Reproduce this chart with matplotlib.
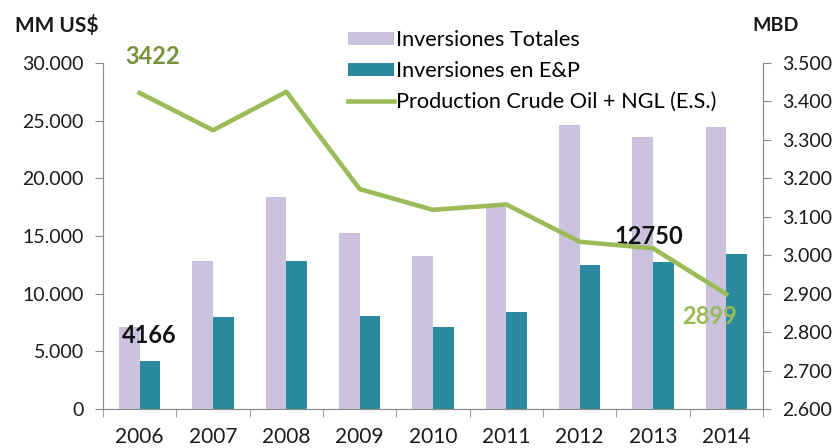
import numpy as np
import matplotlib.pyplot as plt
from matplotlib.ticker import FuncFormatter, FixedLocator

plt.rcParams['font.family'] = ['Lato', 'DejaVu Sans']

years = ['2006', '2007', '2008', '2009', '2010', '2011', '2012', '2013', '2014']
inv_totales = [7100, 12800, 18400, 15250, 13300, 17500, 24600, 23600, 24450]
inv_ep = [4166, 7950, 12800, 8100, 7100, 8450, 12450, 12750, 13450]
produccion = [3.422, 3.325, 3.425, 3.172, 3.118, 3.132, 3.035, 3.018, 2.899]

lila = '#CBC3DD'
teal = '#2B8A9E'
verde = '#9BBB59'
gris = '#8C8C8C'

fig = plt.figure(figsize=(8.39, 4.48), dpi=100)
ax = fig.add_axes([0.1228, 0.0871, 0.7866, 0.7723])
ax2 = ax.twinx()

x = np.arange(len(years))
w = 0.28
b1 = ax.bar(x - w / 2, inv_totales, width=w, color=lila, label='Inversiones Totales')
b2 = ax.bar(x + w / 2, inv_ep, width=w, color=teal, label='Inversiones en E&P')
l1, = ax2.plot(x, produccion, color=verde, linewidth=3.3, label='Production Crude Oil + NGL (E.S.)')

ax.set_xlim(-0.5, len(years) - 0.5)
ax.set_ylim(0, 30000)
ax2.set_ylim(2.6, 3.5)

ax.set_yticks(np.arange(0, 30001, 5000))
ax.yaxis.set_major_formatter(FuncFormatter(lambda v, p: f'{int(v):,}'.replace(',', '.')))
ax2.set_yticks(np.arange(2.6, 3.5001, 0.1))
ax2.yaxis.set_major_formatter(FuncFormatter(lambda v, p: f'{v:.3f}'))

ax.set_xticks(x)
ax.set_xticklabels(years)
ax.xaxis.set_minor_locator(FixedLocator(np.arange(-0.5, len(years), 1.0)))
ax.tick_params(axis='x', which='major', length=0, labelsize=15, pad=13, colors='#1a1a1a')
ax.tick_params(axis='x', which='minor', length=6, color=gris, direction='out')
ax.tick_params(axis='y', length=6, color=gris, labelsize=14, pad=8, labelcolor='#1a1a1a')
ax2.tick_params(axis='y', length=6, color=gris, labelsize=14, pad=8, labelcolor='#1a1a1a')

for a in (ax, ax2):
    a.spines['top'].set_visible(False)
    for s in ('left', 'right', 'bottom'):
        a.spines[s].set_color(gris)

# etiquetas de datos
ax2.text(-0.2, 3.516, '3422', color='#76923C', fontsize=17, fontweight='bold', ha='left', va='center')
ax.text(-0.24, 6330, '4166', color='#111111', fontsize=17, fontweight='bold', ha='left', va='center')
ax.text(6.94, 14920, '12750', color='#111111', fontsize=17, fontweight='bold', ha='center', va='center')
ax2.text(7.77, 2.841, '2899', color='#9BBB59', fontsize=17, fontweight='bold', ha='center', va='center')

fig.text(0.018, 0.944, 'MM US$', fontsize=15, fontweight='bold', color='#1a1a1a', va='center')
fig.text(0.897, 0.944, 'MBD', fontsize=14, fontweight='bold', color='#1a1a1a', va='center')

ax2.legend(handles=[b1, b2, l1], loc='upper left', bbox_to_anchor=(0.415, 0.932),
           bbox_transform=fig.transFigure, frameon=False, fontsize=15.6,
           handlelength=2.1, handleheight=0.55, handletextpad=0.12,
           labelspacing=0.5, borderpad=0, borderaxespad=0)

fig.savefig('out.png', dpi=100)
